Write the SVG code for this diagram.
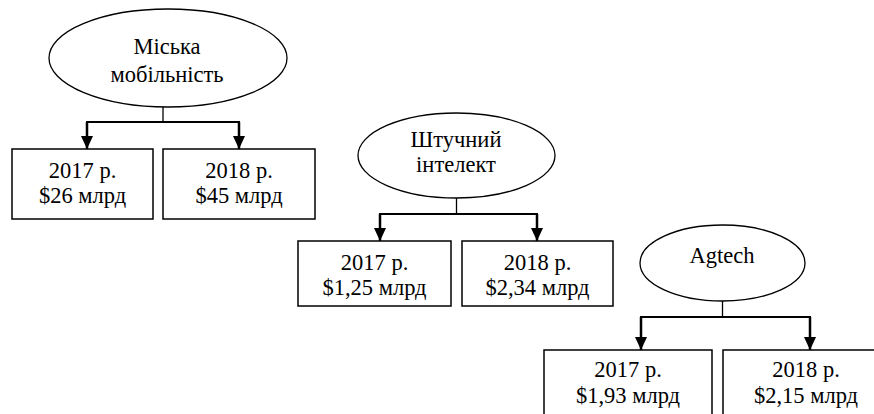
<svg xmlns="http://www.w3.org/2000/svg" width="874" height="414" viewBox="0 0 874 414">
<defs>
<style>
.e{fill:#fff;stroke:#000;stroke-width:1.3}
.b{fill:#fff;stroke:#000;stroke-width:1.5}
.s{fill:none;stroke:#000;stroke-width:1.3}
.h{fill:none;stroke:#000;stroke-width:2}
.a{fill:none;stroke:#000;stroke-width:2.5;marker-end:url(#ah)}
</style>
<marker id="ah" markerUnits="userSpaceOnUse" markerWidth="13" markerHeight="12" refX="13" refY="6" orient="auto" viewBox="0 0 13 12">
<path d="M0,0 L13,6 L0,12 z" fill="#000"/>
</marker>
</defs>
<rect width="874" height="414" fill="#fff"/>
<g id="connectors">
<path class="s" d="M163,107 V122"/>
<path class="h" d="M86,122 H240"/>
<path class="a" d="M87,122 V149"/>
<path class="a" d="M239,122 V149"/>
<path class="s" d="M456.5,198 V214"/>
<path class="h" d="M379,214 H538"/>
<path class="a" d="M380,214 V241"/>
<path class="a" d="M537,214 V241"/>
<path class="s" d="M722.5,301 V317"/>
<path class="h" d="M640,317 H811"/>
<path class="a" d="M641,317 V350"/>
<path class="a" d="M810,317 V350"/>
</g>
<g font-family="Liberation Serif, DejaVu Serif, serif" font-size="22.5" text-anchor="middle" fill="#000">
<g id="n-mobility">
<ellipse class="e" cx="168" cy="58" rx="119" ry="49"/>
<text x="167" y="54">Міська</text>
<text x="167" y="82">мобільність</text>
</g>
<g id="n-mob-2017">
<rect class="b" x="12" y="149" width="141" height="70"/>
<text x="82.5" y="178">2017 р.</text>
<text x="82.5" y="203">$26 млрд</text>
</g>
<g id="n-mob-2018">
<rect class="b" x="163" y="149" width="152" height="70"/>
<text x="239" y="178">2018 р.</text>
<text x="239" y="203">$45 млрд</text>
</g>
<g id="n-ai">
<ellipse class="e" cx="456.5" cy="155.5" rx="98.5" ry="42.5"/>
<text x="456" y="147">Штучний</text>
<text x="456" y="172">інтелект</text>
</g>
<g id="n-ai-2017">
<rect class="b" x="298" y="241" width="153" height="65"/>
<text x="374.5" y="270">2017 р.</text>
<text x="374.5" y="295">$1,25 млрд</text>
</g>
<g id="n-ai-2018">
<rect class="b" x="462" y="241" width="151" height="65"/>
<text x="537.5" y="270">2018 р.</text>
<text x="537.5" y="295">$2,34 млрд</text>
</g>
<g id="n-agtech">
<ellipse class="e" cx="722.5" cy="263" rx="82.5" ry="38"/>
<text x="722" y="263">Agtech</text>
</g>
<g id="n-ag-2017">
<rect class="b" x="544" y="350" width="168" height="70"/>
<text x="628" y="377">2017 р.</text>
<text x="628" y="403">$1,93 млрд</text>
</g>
<g id="n-ag-2018">
<rect class="b" x="723" y="350" width="166" height="70"/>
<text x="806" y="377">2018 р.</text>
<text x="806" y="403">$2,15 млрд</text>
</g>
</g>
</svg>
